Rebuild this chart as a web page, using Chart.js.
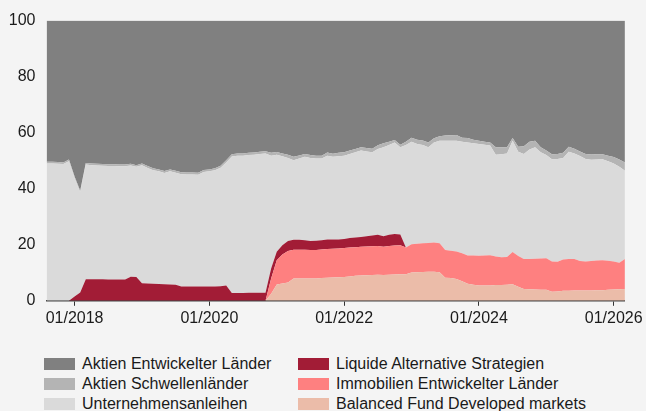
<!DOCTYPE html>
<html><head><meta charset="utf-8">
<script src="https://cdn.jsdelivr.net/npm/chart.js@4"></script>
<style>
html,body{margin:0;padding:0;background:#f4f4f4;}
#wrap{position:relative;width:646px;height:411px;overflow:hidden;font-family:"Liberation Sans",Arial,sans-serif;}
#c{position:absolute;left:0;top:0;}
.li{position:absolute;display:flex;align-items:center;height:20px;font-size:16px;color:#1a1a1a;white-space:nowrap;}
.li .b{display:inline-block;width:31px;height:12px;margin-right:7px;}
</style></head>
<body><div id="wrap"><canvas id="c" width="646" height="340"></canvas><div id="legend"></div></div>
<script>
const months = [
'08/2017','09/2017','10/2017','11/2017','12/2017',
'01/2018','02/2018','03/2018','04/2018','05/2018','06/2018','07/2018','08/2018','09/2018','10/2018','11/2018','12/2018',
'01/2019','02/2019','03/2019','04/2019','05/2019','06/2019','07/2019','08/2019','09/2019','10/2019','11/2019','12/2019',
'01/2020','02/2020','03/2020','04/2020','05/2020','06/2020','07/2020','08/2020','09/2020','10/2020','11/2020','12/2020',
'01/2021','02/2021','03/2021','04/2021','05/2021','06/2021','07/2021','08/2021','09/2021','10/2021','11/2021','12/2021',
'01/2022','02/2022','03/2022','04/2022','05/2022','06/2022','07/2022','08/2022','09/2022','10/2022','11/2022','12/2022',
'01/2023','02/2023','03/2023','04/2023','05/2023','06/2023','07/2023','08/2023','09/2023','10/2023','11/2023','12/2023',
'01/2024','02/2024','03/2024','04/2024','05/2024','06/2024','07/2024','08/2024','09/2024','10/2024','11/2024','12/2024',
'01/2025','02/2025','03/2025','04/2025','05/2025','06/2025','07/2025','08/2025','09/2025','10/2025','11/2025','12/2025',
'01/2026','02/2026','03/2026'];
const tickLabels = ['01/2018','01/2020','01/2022','01/2024','01/2026'];
const yTicks = [0,20,40,60,80,100];

const balanced = [
0,0,0,0,0,0,0,0,0,0,0,0,0,0,0,0,0,0,0,0,0,0,0,0,0,0,0,0,0,0,0,0,0,0,0,0,0,0,0,0,
2.5,5.8,6.2,6.5,8.0,8.0,8.0,8.0,8.0,8.1,8.2,8.3,8.4,8.5,8.7,8.9,9.0,9.1,9.2,9.3,9.2,9.3,9.4,9.5,
9.5,10.1,10.2,10.3,10.4,10.4,10.2,8.2,8.1,7.8,7.0,6.1,5.7,5.5,5.5,5.5,5.6,5.6,5.7,5.9,5.0,4.2,4.1,4.0,3.9,3.9,3.2,3.3,3.6,3.6,3.7,3.7,3.7,3.7,3.8,3.8,3.9,4.0,4.1,4.2];
const immobilien = [
0,0,0,0,0,0,0,0,0,0,0,0,0,0,0,0,0,0,0,0,0,0,0,0,0,0,0,0,0,0,0,0,0,0,0,0,0,0,0,0,
5.5,8.7,10.3,11.3,10.2,10.2,10.2,10.1,10.1,10.2,10.3,10.3,10.3,10.3,10.3,10.2,10.3,10.3,10.3,10.3,10.1,10.3,10.3,10.3,
9.5,10.1,10.2,10.2,10.2,10.4,10.3,9.9,9.8,9.8,10.0,10.1,10.5,10.6,10.7,10.8,10.2,9.9,9.9,11.5,11.0,10.7,10.8,11.0,11.2,11.3,10.8,10.6,11.1,11.3,11.2,10.5,10.3,10.5,10.6,10.7,10.4,10.0,9.5,10.7];
const liquide = [
0,0,0,0,0,1.5,3.0,7.7,7.7,7.7,7.7,7.6,7.6,7.6,7.6,8.6,8.5,6.3,6.2,6.1,6.0,5.9,5.8,5.7,5.1,5.1,5.1,5.1,5.1,5.1,5.1,5.2,5.5,2.8,2.8,2.8,2.9,2.9,2.9,2.9,
3.5,3.0,3.3,3.5,3.6,3.6,3.4,3.2,3.3,3.3,3.4,3.3,3.2,3.3,3.4,3.5,3.5,3.6,3.8,4.0,3.7,4.0,4.1,3.9,
0,0,0,0,0,0,0,0,0,0,0,0,0,0,0,0,0,0,0,0,0,0,0,0,0,0,0,0,0,0,0,0,0,0,0,0,0,0,0,0];
const anleihen = [
49.0,49.0,48.9,48.8,49.8,42.3,35.7,40.9,40.7,40.6,40.5,40.5,40.5,40.4,40.4,39.7,39.3,42.1,41.2,40.5,40.2,39.7,40.4,40.0,40.1,40.0,40.0,39.9,40.9,41.1,41.5,42.3,43.9,48.7,49.0,49.0,49.1,49.2,49.5,49.7,
40.3,34.6,31.8,29.7,28.4,29.0,29.8,29.7,29.4,29.2,29.9,29.5,29.7,29.7,30.0,30.4,30.8,30.3,29.7,30.6,31.8,32.0,32.7,31.1,
36.6,36.6,35.6,35.1,34.2,35.7,36.6,39.0,39.2,39.5,39.8,40.3,40.0,39.9,39.5,39.1,36.3,36.8,37.0,39.7,37.2,37.5,39.1,39.8,37.9,36.8,36.5,36.7,36.3,38.3,37.7,37.5,36.6,36.1,36.0,36.0,35.5,35.0,34.2,31.5];
const schwellen = [
0.6,0.6,0.6,0.6,0.6,0.6,0.6,0.6,0.6,0.6,0.6,0.6,0.6,0.6,0.6,0.6,0.6,0.6,
0.7,0.7,0.7,0.7,0.7,0.7,0.7,0.7,0.7,0.7,0.7,0.7,0.7,0.7,
0.8,0.8,0.8,0.8,0.8,0.8,0.8,0.8,
1.0,1.0,1.0,1.1,1.2,1.1,1.0,1.0,1.0,1.0,1.1,1.1,1.2,1.2,1.2,1.2,1.2,1.2,1.3,1.3,1.4,1.2,0.9,0.9,
1.2,1.4,1.5,1.6,1.7,1.5,1.6,1.9,2.0,2.1,1.4,1.6,1.3,1.1,1.1,1.1,2.7,2.5,2.2,1.0,1.8,2.8,2.8,2.3,1.8,1.6,1.8,1.8,1.8,1.8,1.7,1.6,1.8,1.9,1.9,1.8,2.0,2.3,2.6,3.0];
const entwickelt = [
50.4,50.4,50.5,50.6,49.6,55.6,60.7,50.8,51.0,51.1,51.2,51.3,51.3,51.4,51.4,51.1,51.6,51.0,51.9,52.7,53.1,53.7,53.1,53.6,54.1,54.2,54.2,54.3,53.3,53.1,52.7,51.8,49.8,47.7,47.4,47.4,47.2,47.1,46.8,46.6,
47.2,46.9,47.4,47.9,48.6,48.1,47.6,48.0,48.2,48.2,47.1,47.5,47.2,47.0,46.4,45.8,45.2,45.5,45.7,44.5,43.8,43.2,42.6,44.3,
43.2,41.8,42.5,42.8,43.5,42.0,41.3,41.0,40.9,40.8,41.8,41.9,42.5,42.9,43.2,43.5,45.2,45.2,45.2,41.9,45.0,44.8,43.2,42.9,45.2,46.4,47.7,47.6,47.2,45.0,45.7,46.7,47.6,47.8,47.7,47.7,48.2,48.7,49.6,50.6];

const seriesNames = ['Balanced Fund Developed markets','Immobilien Entwickelter Länder','Liquide Alternative Strategien','Unternehmensanleihen','Aktien Schwellenländer','Aktien Entwickelter Länder'];
const seriesData = [balanced, immobilien, liquide, anleihen, schwellen, entwickelt];
const seriesColors = ['#ebbca9','#fe8080','#a21c36','#dadada','#b4b4b4','#808080'];
// legend grid: rows of [left column, right column] as indices into the series
const legendGrid = [[5,2],[4,1],[3,0]];

const FONT = '"Liberation Sans", Arial, sans-serif';
const datasets = seriesData.map((d,i)=>({
  label: seriesNames[i], data: d,
  backgroundColor: seriesColors[i], borderColor: seriesColors[i],
  borderWidth: 0, pointRadius: 0, tension: 0,
  fill: i===0 ? 'origin' : '-1'
}));

const chart = new Chart(document.getElementById('c'), {
  type: 'line',
  data: { labels: months, datasets },
  options: {
    responsive: false, animation: false,
    layout: { padding: { left: 0, right: 19.5, top: 20, bottom: 9 } },
    plugins: { legend: { display: false }, tooltip: { enabled: false } },
    scales: {
      x: {
        type: 'category', offset: false,
        grid: { display: true, drawOnChartArea: false, drawTicks: true, tickLength: 5, color: '#333', lineWidth: 1 },
        border: { display: true, color: '#444', width: 1.5 },
        ticks: {
          autoSkip: false, maxRotation: 0, padding: 3,
          font: { family: FONT, size: 16 }, color: '#1a1a1a',
          callback: function(v, idx){ const l = months[idx]; return tickLabels.includes(l) ? l : null; }
        }
      },
      y: {
        stacked: true, min: 0, max: 100,
        afterBuildTicks: (s)=>{ s.ticks = yTicks.map(v=>({value:v})); },
        afterFit: (s)=>{ s.width = 46.5; },
        grid: { display: false, drawTicks: false },
        border: { display: false },
        ticks: { padding: 11, font: { family: FONT, size: 16 }, color: '#1a1a1a' }
      }
    }
  }
});

const lg = document.getElementById('legend');
const colX = [44, 298];
const rowTop = [354, 374, 394];
legendGrid.forEach((row, r)=>{
  row.forEach((si, c)=>{
    const d = document.createElement('div');
    d.className = 'li';
    d.style.left = colX[c] + 'px';
    d.style.top = rowTop[r] + 'px';
    const b = document.createElement('span');
    b.className = 'b';
    b.style.background = chart.data.datasets[si].backgroundColor;
    const t = document.createElement('span');
    t.textContent = chart.data.datasets[si].label;
    d.appendChild(b); d.appendChild(t);
    lg.appendChild(d);
  });
});
</script></body></html>
